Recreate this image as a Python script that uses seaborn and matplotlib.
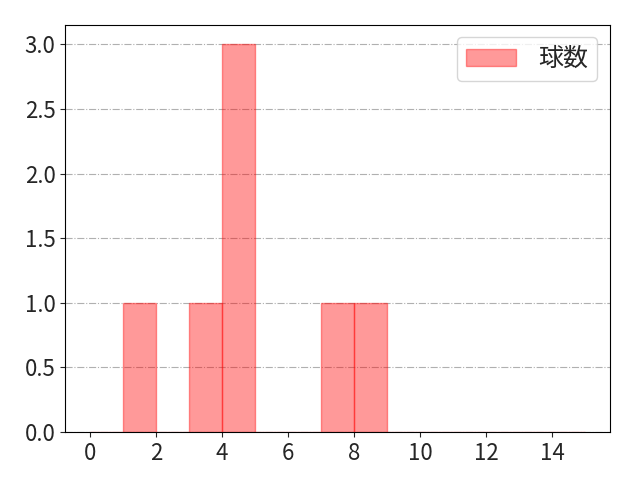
import matplotlib
matplotlib.use('Agg')
import matplotlib.pyplot as plt
import seaborn as sns
import pandas as pd

# pitch counts per at-bat
pitch_counts = [1, 3, 4, 4, 4, 7, 8]
bin_edges = list(range(0, 16))
label = '球数'

sns.set_style('ticks')
plt.rcParams['font.family'] = ['Noto Sans CJK JP', 'DejaVu Sans']
plt.rcParams['font.size'] = 16

df = pd.DataFrame({'pitches': pitch_counts})

fig, ax = plt.subplots(figsize=(6.4, 4.8), dpi=100)
sns.histplot(data=df, x='pitches', bins=bin_edges, color='red', alpha=0.4,
             edgecolor=(1, 0, 0, 0.4), linewidth=1, label=label, ax=ax)
ax.grid(axis='y', linestyle='-.', color='#b0b0b0', linewidth=0.8)
ax.set_axisbelow(True)
ax.set_xlabel('')
ax.set_ylabel('')
ax.set_xticks(range(0, 16, 2))
ax.tick_params(labelsize=16)
ax.legend(loc='upper right', fontsize=18, borderpad=0.35, handlelength=2.0,
          handletextpad=0.9)
for s in ax.spines.values():
    s.set_color('black')
fig.subplots_adjust(left=0.102, right=0.953, top=0.948, bottom=0.1)
fig.savefig('out.png')
